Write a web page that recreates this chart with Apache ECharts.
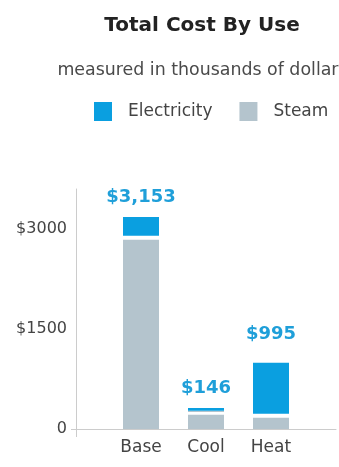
<!DOCTYPE html>
<html><head><meta charset="utf-8">
<script src="https://cdn.jsdelivr.net/npm/echarts@6/dist/echarts.min.js"></script>
<style>html,body{margin:0;padding:0;background:#fff}#c{width:339px;height:467px}</style>
</head><body><div id="c"></div>
<script>
const categories = ['Base', 'Cool', 'Heat'];
const steam = [2900, 275, 230];
const electricity = [280, 40, 765];
const totals = [3153, 146, 995];
const yTicks = [0, 1500, 3000];

const FONT = '"DejaVu Sans"';
const chart = echarts.init(document.getElementById('c'), null, {renderer: 'canvas'});
const axisCats = [''].concat(categories, ['']);
const pad = arr => [null].concat(arr, [null]);

const elecData = pad(electricity).map((v, i) => {
  if (v === null) return null;
  const item = {value: v};
  if (i === 3) item.label = {distance: 19};
  return item;
});

const option = {
  animation: false,
  graphic: [
    {type: 'text', x: 202, y: 26, style: {text: 'Total Cost By Use', fill: '#222', font: 'bold 20px ' + FONT, align: 'center', verticalAlign: 'middle'}},
    {type: 'text', x: 202.5, y: 70, style: {text: 'measured in thousands of dollars', fill: '#4a4a4a', font: '17.4px ' + FONT, align: 'center', verticalAlign: 'middle'}}
  ],
  legend: {
    data: ['Electricity', 'Steam'],
    left: 89, top: 97,
    itemWidth: 18, itemHeight: 19, itemGap: 27, icon: 'rect',
    textStyle: {fontFamily: 'DejaVu Sans', fontSize: 17, color: '#444', padding: [0, 0, 0, 11]}
  },
  grid: {left: 76, right: -4, top: 189, bottom: 38},
  xAxis: {
    type: 'category',
    data: axisCats,
    boundaryGap: false,
    axisLine: {lineStyle: {color: '#cccccc'}},
    axisTick: {show: true, interval: (i) => i === 0, length: 8, lineStyle: {color: '#cccccc'}},
    axisLabel: {interval: 0, fontFamily: 'DejaVu Sans', fontSize: 17, color: '#444', margin: 10}
  },
  yAxis: {
    type: 'value',
    min: 0, max: 3600,
    axisLine: {show: true, lineStyle: {color: '#cccccc'}},
    splitLine: {show: false},
    axisTick: {show: true, customValues: [0], length: 5, lineStyle: {color: '#cccccc'}},
    axisLabel: {
      customValues: yTicks,
      formatter: v => v === 0 ? '0' : '$' + v,
      fontFamily: 'DejaVu Sans', fontSize: 16, color: '#444', margin: 9
    }
  },
  series: [
    {name: 'Steam', type: 'bar', stack: 't', barWidth: 36, data: pad(steam),
     itemStyle: {color: '#b4c4cd'}},
    {name: 'Electricity', type: 'bar', stack: 't', barWidth: 36, data: elecData,
     itemStyle: {color: '#0a9fe0', shadowColor: '#ffffff', shadowOffsetY: 4, shadowBlur: 0},
     label: {show: true, position: 'top', distance: 11,
       formatter: p => '$' + totals[p.dataIndex - 1].toLocaleString('en-US'),
       color: '#1f9fd9', fontFamily: 'DejaVu Sans', fontWeight: 'bold', fontSize: 18}}
  ]
};
chart.setOption(option);
</script></body></html>
